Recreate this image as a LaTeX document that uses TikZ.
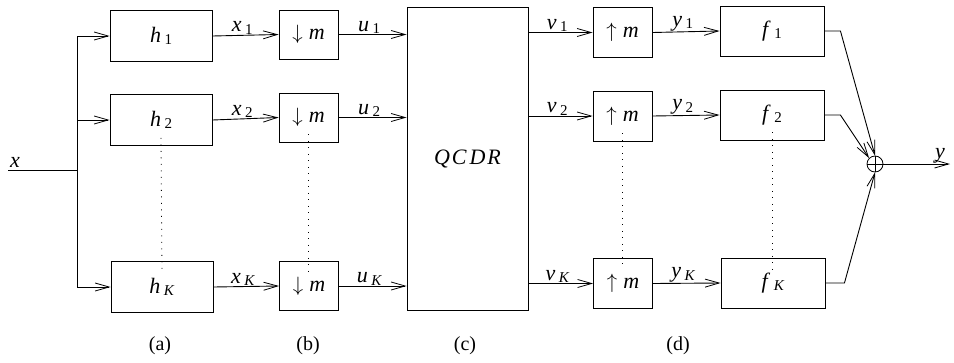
\documentclass[tikz,border=0pt]{standalone}
\usepackage{fontspec}
\setmainfont{Liberation Serif}
\usetikzlibrary{arrows.meta}
\newcommand{\lb}[2]{\textit{#1}\kern3.5pt\raisebox{-0.25ex}{\fontsize{15}{15}\selectfont #2}}
\newcommand{\dn}{$\downarrow$\;\textit{m}}
\newcommand{\upm}{$\uparrow$\;\textit{m}}
\begin{document}
\begin{tikzpicture}[x=1pt,y=-1pt,
  line width=0.9pt,
  >={Straight Barb[length=14pt,width=8pt,line width=0.8pt]},
  every node/.style={font=\fontsize{22}{25}\selectfont},
  blk/.style={draw,minimum width=102pt,minimum height=51pt,inner sep=0pt},
  sm/.style={draw,minimum width=59pt,minimum height=50pt,inner sep=0pt},
  dots/.style={dash pattern=on 1pt off 5.5pt,line width=0.8pt},
  elab/.style={above,inner sep=0.5pt,pos=0.45},
  captxt/.style={font=\fontsize{20}{23}\selectfont}]
\useasboundingbox (0,0) rectangle (954,362);
% input
\coordinate (in) at (8,170);
\coordinate (br) at (77,170);
\coordinate (bt) at (77,36);
\coordinate (bb) at (77,287);
% column (a)
\node[blk] (h1) at (161,36) {\lb{h}{1}};
\node[blk] (h2) at (161,120) {\lb{h}{2}};
\node[blk] (hK) at (162,287) {\lb{h}{\textit{K}}};
% column (b)
\node[sm,minimum height=49pt] (d1) at (308.5,34.5) {\dn};
\node[sm,minimum height=49pt] (d2) at (308.5,117.5) {\dn};
\node[sm,minimum height=49pt] (dK) at (309,286) {\dn};
% column (c)
\node[draw,minimum width=121pt,minimum height=303pt,inner sep=0pt] (q) at (467.5,158.5) {\textit{Q\kern2pt C\kern3pt D\kern2pt R}};
% column (d)
\node[sm] (u1) at (622.5,32.5) {\upm};
\node[sm] (u2) at (622.5,116) {\upm};
\node[sm] (uK) at (623,283.5) {\upm};
\node[blk,minimum width=104pt,minimum height=50pt] (f1) at (772,31) {\lb{f}{1}};
\node[blk,minimum width=104pt,minimum height=50pt] (f2) at (772,115) {\lb{f}{2}};
\node[blk,minimum width=104pt,minimum height=50pt] (fK) at (773,283) {\lb{f}{\textit{K}}};
% summer
\node[draw,circle,minimum size=16pt,inner sep=0pt,line width=0.8pt,
  path picture={\draw[line width=0.8pt] (path picture bounding box.north) -- (path picture bounding box.south)
    (path picture bounding box.west) -- (path picture bounding box.east);}] (sum) at (875,164) {};
\coordinate (out) at (950,164);
% input and branch
\draw (in) -- node[above,pos=0.1,inner sep=2pt] (xl) {\textit{x}} (br);
\draw (bt) -- (bb);
\draw[->] (bt) -- (h1.west);
\draw[->] (br |- h2.west) -- (h2.west);
\draw[->] (bb) -- (hK.west);
% (a) -> (b)
\draw[->] (h1.east) -- node[elab] {\lb{x}{1}} (d1.west);
\draw[->] (h2.east) -- node[elab] {\lb{x}{2}} (d2.west);
\draw[->] (hK.east) -- node[elab] {\lb{x}{\textit{K}}} (dK.west);
% (b) -> (c)
\draw[->] (d1.east) -- node[elab] {\lb{u}{1}} (d1.east -| q.west);
\draw[->] (d2.east) -- node[elab] {\lb{u}{2}} (d2.east -| q.west);
\draw[->] (dK.east) -- node[elab] {\lb{u}{\textit{K}}} (dK.east -| q.west);
% (c) -> (d)
\draw[->] (u1.west -| q.east) -- node[elab] {\lb{v}{1}} (u1.west);
\draw[->] (u2.west -| q.east) -- node[elab] {\lb{v}{2}} (u2.west);
\draw[->] (uK.west -| q.east) -- node[elab] {\lb{v}{\textit{K}}} (uK.west);
\draw[->] (u1.east) -- node[elab] {\lb{y}{1}} (f1.west);
\draw[->] (u2.east) -- node[elab] {\lb{y}{2}} (f2.west);
\draw[->] (uK.east) -- node[elab] {\lb{y}{\textit{K}}} (fK.west);
% to summer
\draw[->] (f1.east) -- ++(16,0) -- (sum.north);
\draw[->] (f2.east) -- ++(16,0) -- (sum.north west);
\draw[->] (fK.east) -- ++(19,0) -- (sum.south);
\draw[->] (sum.east) -- node[above,pos=0.85,inner sep=0pt] {\textit{y}} (out);
% dotted continuation
\draw[dots] ([yshift=8pt]h2.south) -- ([yshift=-12pt]hK.north);
\draw[dots] ([yshift=8pt]d2.south) -- ([yshift=-12pt]d2.south |- dK.north);
\draw[dots] ([yshift=8pt]u2.south) -- ([yshift=-10pt]u2.south |- uK.north);
\draw[dots] ([yshift=8pt]f2.south) -- ([yshift=-12pt]f2.south |- fK.north);
% captions
\node[captxt] (ca) at (160,346) {(a)};
\node[captxt] (cb) at (308,346) {(b)};
\node[captxt] (cc) at (465,346) {(c)};
\node[captxt] (cd) at (678,346) {(d)};
\end{tikzpicture}
\end{document}
